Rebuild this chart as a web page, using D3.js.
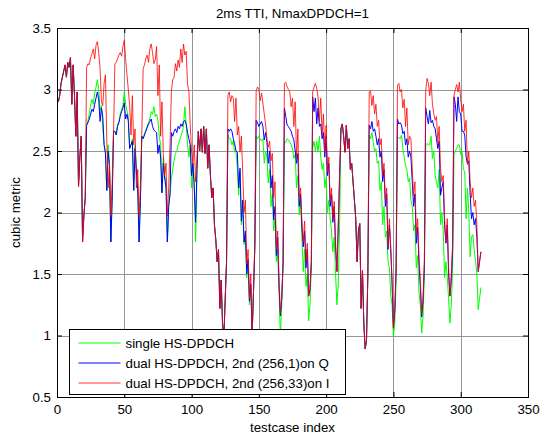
<!DOCTYPE html>
<html>
<head>
<meta charset="utf-8">
<script src="https://cdn.jsdelivr.net/npm/d3@7"></script>
<style>
  body { margin: 0; background: #fff; }
  text { font-family: "Liberation Sans", Arial, sans-serif; }
</style>
</head>
<body>
<svg id="chart" width="543" height="439"></svg>
<script>
// chart data (21 testcases per group, 15 groups)
const chartTitle = "2ms TTI, NmaxDPDCH=1";
const xLabel = "testcase index";
const yLabel = "cubic metric";
const xTicks = [0, 50, 100, 150, 200, 250, 300, 350];
const yTicks = [0.5, 1, 1.5, 2, 2.5, 3, 3.5];
const seriesNames = [
    "single HS-DPDCH",
    "dual HS-DPDCH, 2nd (256,1)on Q",
    "dual HS-DPDCH, 2nd (256,33)on I"
];

const singleHS = [
    2.90,2.95,3.05,3.10,3.15,3.20,3.10,3.22,3.18,3.26,2.88,3.20,2.95,2.62,2.98,2.21,2.45,2.62,1.76,1.98,2.12,
    2.71,2.75,2.80,2.88,2.92,2.88,2.97,3.02,3.08,3.00,2.83,2.87,2.70,2.55,2.50,2.18,2.55,2.40,1.76,2.10,2.66,
    2.66,2.64,2.72,2.74,2.80,2.84,2.87,2.98,2.88,2.83,2.78,2.52,2.55,2.60,2.18,2.55,2.35,2.20,1.76,2.10,2.62,
    2.60,2.64,2.67,2.70,2.73,2.76,2.82,2.80,2.86,2.78,2.80,2.75,2.62,2.55,2.16,2.45,2.30,2.25,1.76,2.05,2.15,
    2.28,2.35,2.42,2.48,2.50,2.55,2.58,2.62,2.65,2.70,2.86,2.72,2.55,2.45,2.55,2.20,2.40,2.25,1.76,2.30,2.66,
    2.50,2.68,2.49,2.70,2.48,2.68,2.36,2.55,2.30,2.12,2.20,1.90,1.78,1.60,1.70,1.22,1.45,1.10,0.98,1.30,1.60,
    2.63,2.60,2.60,2.55,2.58,2.49,2.50,2.36,2.14,2.33,1.90,2.05,1.74,1.80,1.47,1.60,1.25,1.40,1.00,1.35,1.70,
    2.62,2.60,2.62,2.60,2.58,2.60,2.40,2.50,2.45,2.24,2.35,2.05,2.15,1.85,1.95,1.60,1.70,1.35,1.00,1.25,1.55,
    2.58,2.57,2.60,2.59,2.57,2.55,2.52,2.44,2.47,2.20,2.30,1.98,2.10,1.80,1.52,1.70,1.40,1.50,1.12,1.25,1.55,
    2.52,2.58,2.50,2.58,2.49,2.62,2.45,2.35,2.40,2.20,2.28,2.00,2.10,1.95,1.85,1.68,1.80,1.50,1.25,1.42,1.90,
    2.68,2.72,2.62,2.49,2.71,2.52,2.60,2.35,2.40,2.25,2.10,1.95,1.60,1.85,1.91,1.22,1.53,1.10,0.89,0.96,1.50,
    2.63,2.60,2.65,2.57,2.50,2.52,2.40,2.42,2.18,2.25,1.90,2.05,1.80,1.85,1.60,1.55,1.33,1.25,0.99,1.10,1.45,
    2.60,2.61,2.60,2.63,2.52,2.45,2.38,2.35,2.25,2.28,2.10,2.05,1.85,1.90,1.55,1.65,1.35,1.25,1.02,1.15,1.50,
    2.55,2.56,2.55,2.55,2.62,2.44,2.50,2.30,2.25,2.20,2.35,1.90,2.00,1.85,1.47,1.60,1.48,1.30,1.10,1.25,1.55,
    2.48,2.50,2.52,2.55,2.55,2.47,2.50,2.35,2.33,1.95,2.20,2.00,1.64,1.80,1.82,1.70,1.60,1.50,1.21,1.30,1.39
];

const dualQ = [
    2.90,2.95,3.05,3.10,3.15,3.20,3.10,3.22,3.18,3.26,2.88,3.20,2.95,2.62,2.98,2.21,2.45,2.62,1.76,1.98,2.12,
    2.71,2.73,2.76,2.80,2.84,2.82,2.88,2.93,2.98,2.92,2.74,2.85,2.78,2.55,2.48,2.18,2.50,2.38,1.76,2.10,2.66,
    2.66,2.63,2.70,2.73,2.78,2.82,2.85,2.89,2.76,2.80,2.74,2.52,2.55,2.58,2.18,2.52,2.33,2.18,1.76,2.10,2.62,
    2.60,2.63,2.66,2.69,2.72,2.74,2.76,2.70,2.67,2.66,2.65,2.48,2.55,2.45,2.16,2.40,2.28,2.20,1.76,2.05,2.15,
    2.65,2.62,2.66,2.68,2.65,2.70,2.68,2.72,2.70,2.74,2.75,2.72,2.65,2.60,2.55,2.30,2.40,2.20,1.92,2.35,2.66,
    2.50,2.68,2.49,2.70,2.48,2.68,2.36,2.55,2.30,2.12,2.20,1.90,1.78,1.60,1.70,1.22,1.45,1.10,0.98,1.30,1.60,
    2.68,2.66,2.68,2.66,2.60,2.56,2.50,2.49,2.20,2.36,1.93,2.10,1.76,1.85,1.50,1.62,1.28,1.42,1.00,1.35,1.72,
    2.75,2.73,2.70,2.72,2.74,2.70,2.59,2.65,2.57,2.40,2.50,2.20,2.30,1.94,2.05,1.65,1.80,1.40,1.16,1.30,1.60,
    2.85,2.78,2.71,2.70,2.68,2.66,2.62,2.59,2.50,2.40,2.48,2.05,2.15,1.88,1.72,1.85,1.55,1.70,1.32,1.38,1.60,
    2.94,2.82,2.93,2.72,2.85,2.70,2.72,2.60,2.65,2.45,2.62,2.30,2.40,2.05,2.15,1.92,2.05,1.72,1.52,1.88,2.30,
    2.68,2.72,2.62,2.49,2.71,2.52,2.60,2.35,2.40,2.25,2.10,1.95,1.60,1.85,1.91,1.22,1.53,1.10,0.89,0.96,1.50,
    2.71,2.68,2.74,2.66,2.68,2.62,2.55,2.60,2.45,2.50,2.25,2.35,2.05,2.15,1.70,1.90,1.70,1.42,1.06,1.20,1.55,
    2.76,2.72,2.73,2.71,2.64,2.66,2.55,2.60,2.45,2.50,2.45,2.25,2.05,2.15,1.75,1.88,1.58,1.40,1.15,1.28,1.58,
    2.85,2.78,2.72,2.83,2.73,2.75,2.70,2.68,2.60,2.52,2.58,2.14,2.20,2.25,1.90,1.75,1.90,1.50,1.32,1.45,1.70,
    2.94,2.88,2.74,2.94,2.82,2.80,2.66,2.66,2.63,2.45,2.40,2.42,2.15,1.95,2.00,1.90,1.95,1.80,1.52,1.60,1.68
];

const dualI = [
    2.90,2.95,3.05,3.10,3.15,3.20,3.10,3.22,3.18,3.26,2.88,3.20,2.95,2.62,2.98,2.21,2.45,2.62,1.76,1.98,2.12,
    3.18,3.21,3.20,3.26,3.29,3.33,3.25,3.36,3.39,3.30,3.17,2.90,2.87,3.05,3.12,2.59,2.20,2.40,1.97,2.25,2.63,
    3.21,3.22,3.25,3.28,3.30,3.27,3.35,3.40,3.25,3.12,3.00,2.87,2.63,2.95,2.55,2.68,2.20,2.35,1.97,2.22,2.62,
    3.17,3.20,3.25,3.28,3.22,3.33,3.37,3.30,3.21,3.24,3.35,2.95,3.20,2.62,2.90,2.48,2.30,2.40,1.97,2.20,2.55,
    2.98,3.08,3.10,3.21,3.15,3.24,3.18,3.33,3.22,3.37,3.28,3.31,3.04,2.99,2.71,2.50,2.39,2.55,2.25,2.45,2.66,
    2.50,2.68,2.49,2.70,2.48,2.68,2.36,2.55,2.30,2.12,2.20,1.90,1.78,1.60,1.70,1.22,1.45,1.10,0.98,1.30,1.60,
    2.95,2.98,2.90,2.95,2.93,2.74,2.93,2.63,2.70,2.49,2.62,2.33,2.00,2.10,1.58,1.70,1.30,1.50,1.00,1.35,1.75,
    2.99,3.02,3.00,2.91,2.97,2.89,2.80,2.72,2.60,2.53,2.58,2.42,2.48,2.12,2.25,1.70,1.85,1.45,1.18,1.30,1.60,
    3.05,3.06,3.02,3.00,2.98,2.86,2.93,2.70,2.90,2.44,2.68,2.12,2.20,1.93,1.76,1.93,1.60,1.75,1.32,1.38,1.60,
    2.98,3.02,3.05,3.01,2.94,2.74,2.93,2.63,2.80,2.49,2.71,2.33,2.45,2.09,2.20,1.95,2.09,1.75,1.52,1.90,2.30,
    2.68,2.72,2.62,2.49,2.71,2.52,2.60,2.35,2.40,2.25,2.10,1.95,1.60,1.85,1.91,1.22,1.53,1.10,0.89,0.96,1.50,
    2.98,2.99,2.87,2.95,2.80,2.88,2.70,2.75,2.55,2.60,2.30,2.40,2.10,2.20,1.72,1.95,1.72,1.45,1.06,1.20,1.55,
    3.03,3.05,2.98,3.00,2.85,2.92,2.70,2.85,2.55,2.62,2.60,2.35,2.14,2.25,1.82,1.95,1.65,1.45,1.18,1.30,1.60,
    2.99,3.09,3.05,2.95,3.06,2.88,2.80,2.75,2.78,2.57,2.70,2.36,2.25,2.30,1.95,1.76,1.95,1.55,1.32,1.50,1.75,
    2.95,3.00,3.04,2.98,3.06,2.92,2.82,2.88,2.66,2.75,2.39,2.50,2.25,2.12,2.20,2.05,2.10,1.90,1.52,1.60,1.68
];

// layout
const width = 543, height = 439;
const margin = { top: 28, right: 15, bottom: 42, left: 57 };
const plotW = width - margin.left - margin.right;
const plotH = height - margin.top - margin.bottom;
const fontSize = 13.3;
const colors = ["#00ff00", "#0000ff", "#ff0000"];
const opacities = [1, 1, 0.8];

const svg = d3.select("#chart");

const x = d3.scaleLinear().domain([0, 350]).range([margin.left, margin.left + plotW]);
const y = d3.scaleLinear().domain([0.5, 3.5]).range([margin.top + plotH, margin.top]);

// grid
const grid = svg.append("g").attr("stroke", "#969696").attr("stroke-width", 1);
grid.selectAll("line.gx").data(xTicks.slice(1, -1)).join("line")
    .attr("class", "gx")
    .attr("x1", d => Math.round(x(d)) + 0.5).attr("x2", d => Math.round(x(d)) + 0.5)
    .attr("y1", margin.top).attr("y2", margin.top + plotH);
grid.selectAll("line.gy").data(yTicks.slice(1, -1)).join("line")
    .attr("class", "gy")
    .attr("y1", d => Math.round(y(d)) + 0.5).attr("y2", d => Math.round(y(d)) + 0.5)
    .attr("x1", margin.left).attr("x2", margin.left + plotW);

// series
const allSeries = [singleHS, dualQ, dualI];
const line = d3.line()
    .x((d, i) => x(i + 1))
    .y(d => y(d));

svg.append("defs").append("clipPath").attr("id", "plotclip")
    .append("rect").attr("x", margin.left).attr("y", margin.top)
    .attr("width", plotW).attr("height", plotH);

svg.append("g").attr("clip-path", "url(#plotclip)")
    .selectAll("path").data(allSeries).join("path")
    .attr("d", d => line(d))
    .attr("fill", "none")
    .attr("stroke", (d, i) => colors[i])
    .attr("stroke-opacity", (d, i) => opacities[i])
    .attr("stroke-width", 1);

// axes (MATLAB style: ticks inside, box on)
const xAxis = d3.axisBottom(x).tickValues(xTicks).tickSize(-5).tickPadding(8);
const yAxis = d3.axisLeft(y).tickValues(yTicks).tickSize(-5).tickPadding(6).tickFormat(d3.format("~g"));

svg.append("g").attr("transform", `translate(0,${margin.top + plotH})`).call(xAxis)
    .call(g => g.select(".domain").remove())
    .selectAll("text").attr("font-size", fontSize).attr("fill", "#000");
svg.append("g").attr("transform", `translate(${margin.left},0)`).call(yAxis)
    .call(g => g.select(".domain").remove())
    .selectAll("text").attr("font-size", fontSize).attr("fill", "#000");

// top and right ticks
svg.append("g").attr("transform", `translate(0,${margin.top})`)
    .call(d3.axisTop(x).tickValues(xTicks).tickSize(-5).tickFormat(""))
    .call(g => g.select(".domain").remove());
svg.append("g").attr("transform", `translate(${margin.left + plotW},0)`)
    .call(d3.axisRight(y).tickValues(yTicks).tickSize(-5).tickFormat(""))
    .call(g => g.select(".domain").remove());

svg.append("rect")
    .attr("x", margin.left + 0.5).attr("y", margin.top + 0.5)
    .attr("width", plotW).attr("height", plotH)
    .attr("fill", "none").attr("stroke", "#000").attr("stroke-width", 1);

// titles
svg.append("text").attr("x", margin.left + plotW / 2).attr("y", 18)
    .attr("text-anchor", "middle").attr("font-size", fontSize).text(chartTitle);
svg.append("text").attr("x", margin.left + plotW / 2).attr("y", 432)
    .attr("text-anchor", "middle").attr("font-size", fontSize).text(xLabel);
svg.append("text").attr("transform", `translate(20,${margin.top + plotH / 2}) rotate(-90)`)
    .attr("text-anchor", "middle").attr("font-size", fontSize).text(yLabel);

// legend
const legendData = seriesNames.map((name, i) => ({ name: name, color: colors[i], opacity: opacities[i] }));
const legend = svg.append("g").attr("transform", "translate(69.5,329.5)");
legend.append("rect").attr("width", 276).attr("height", 65)
    .attr("fill", "#fff").attr("stroke", "#000");
const items = legend.selectAll("g.item").data(legendData).join("g")
    .attr("class", "item")
    .attr("transform", (d, i) => `translate(0,${13.5 + i * 20})`);
items.append("line").attr("x1", 9).attr("x2", 51)
    .attr("stroke", d => d.color)
    .attr("stroke-opacity", d => d.opacity);
items.append("text").attr("x", 56).attr("y", 4.5).attr("font-size", fontSize).text(d => d.name);
</script>
</body>
</html>
